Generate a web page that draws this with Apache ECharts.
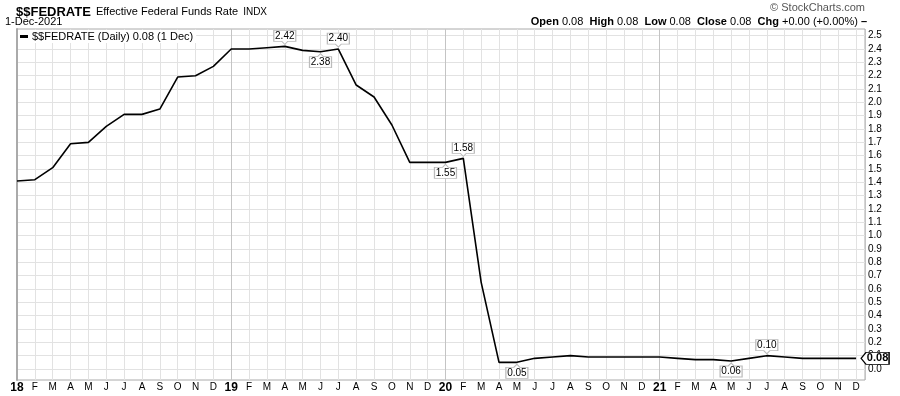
<!DOCTYPE html>
<html>
<head>
<meta charset="utf-8">
<script src="https://cdn.jsdelivr.net/npm/echarts@6/dist/echarts.min.js"></script>
<style>
html,body{margin:0;padding:0;background:#fff;}
#chart{width:900px;height:396px;}
</style>
</head>
<body>
<div id="chart"></div>
<script>
// Month tick labels (Jan 2018 .. Dec 2021)
const xTickLabels = [
  '18','F','M','A','M','J','J','A','S','O','N','D',
  '19','F','M','A','M','J','J','A','S','O','N','D',
  '20','F','M','A','M','J','J','A','S','O','N','D',
  '21','F','M','A','M','J','J','A','S','O','N','D'
];
const yearLabels = ['18','19','20','21'];

// Effective Federal Funds Rate, monthly points
const rateValues = [
  1.41, 1.42, 1.51, 1.69, 1.70, 1.82, 1.91, 1.91, 1.95, 2.19, 2.20, 2.27,
  2.40, 2.40, 2.41, 2.42, 2.39, 2.38, 2.40, 2.13, 2.04, 1.83, 1.55, 1.55,
  1.55, 1.58, 0.65, 0.05, 0.05, 0.08, 0.09, 0.10, 0.09, 0.09, 0.09, 0.09,
  0.09, 0.08, 0.07, 0.07, 0.06, 0.08, 0.10, 0.09, 0.08, 0.08, 0.08, 0.08
];

// Indices of annotated points
const annotAbove = [15, 18, 25, 42];
const annotBelow = [17, 24, 28, 40];

const seriesName = '$$FEDRATE (Daily) 0.08 (1 Dec)';
const FONT = 'Liberation Sans, Arial, sans-serif';

const lastIdx = rateValues.length - 1;

const markData = [];
annotAbove.forEach(i => {
  markData.push({
    coord: [i, rateValues[i]],
    value: rateValues[i].toFixed(2),
    symbol: 'path://M0,0H22V11H14L11,14L8,11H0Z',
    symbolSize: [22, 14],
    symbolOffset: [0, -9],
    label: { offset: [0, -1.5] }
  });
});
annotBelow.forEach(i => {
  markData.push({
    coord: [i, rateValues[i]],
    value: rateValues[i].toFixed(2),
    symbol: 'path://M0,3H8L11,0L14,3H22V14H0Z',
    symbolSize: [22, 14],
    symbolOffset: [0, 9],
    label: { offset: [0, 1.5] }
  });
});
markData.push({
  coord: [lastIdx, rateValues[lastIdx]],
  value: rateValues[lastIdx].toFixed(2),
  symbol: 'path://M0,6L5,0H28V12H5Z',
  symbolSize: [28, 12],
  symbolOffset: [19, 0],
  itemStyle: { color: '#fff', borderColor: '#000', borderWidth: 1 },
  label: { offset: [2.5, 0], fontWeight: 'bold', fontSize: 11 }
});

const splitColors = ['#c4c4c4'];
for (let k = 1; k < 12; k++) splitColors.push('#e2e2e2');

const chart = echarts.init(document.getElementById('chart'), null, { renderer: 'canvas' });
chart.setOption({
  animation: false,
  backgroundColor: '#fff',
  textStyle: { fontFamily: FONT },
  title: [
    {
      left: 16, top: 3, padding: 0,
      text: '{a|$$FEDRATE} {b|Effective Federal Funds Rate} {c|INDX}',
      textStyle: {
        fontWeight: 'normal',
        rich: {
          a: { fontFamily: FONT, fontSize: 13, fontWeight: 'bold', color: '#000' },
          b: { fontFamily: FONT, fontSize: 11, fontWeight: 'normal', color: '#000' },
          c: { fontFamily: FONT, fontSize: 10, fontWeight: 'normal', color: '#000' }
        }
      }
    },
    {
      left: 5, top: 16, padding: 0,
      text: '1-Dec-2021',
      textStyle: { fontFamily: FONT, fontSize: 11, fontWeight: 'normal', color: '#000' }
    },
    {
      right: 35, top: 2, padding: 0,
      text: '© StockCharts.com',
      textStyle: { fontFamily: FONT, fontSize: 11, fontWeight: 'normal', color: '#555' }
    },
    {
      right: 33, top: 16, padding: 0,
      text: '{k|Open} 0.08  {k|High} 0.08  {k|Low} 0.08  {k|Close} 0.08  {k|Chg} +0.00 (+0.00%) {k|–}',
      textStyle: {
        fontFamily: FONT, fontSize: 11, fontWeight: 'normal', color: '#000',
        rich: { k: { fontFamily: FONT, fontSize: 11, fontWeight: 'bold', color: '#000' } }
      }
    }
  ],
  legend: {
    left: 18, top: 30, padding: [1, 3, 1, 2],
    backgroundColor: '#fff',
    icon: 'rect', itemWidth: 8, itemHeight: 3, itemGap: 4,
    selectedMode: false,
    textStyle: { fontFamily: FONT, fontSize: 11, color: '#000', padding: [0, 0, 0, -1] },
    data: [seriesName]
  },
  grid: [
    { left: 17, right: 35, top: 29, bottom: 16, show: true, borderColor: '#aaa', borderWidth: 1 },
    { left: 17, right: 35, top: 35.7, bottom: 27 }
  ],
  xAxis: [
    {
      gridIndex: 0, type: 'value', min: 0, max: 47.5, interval: 1,
      axisLine: { show: false }, axisTick: { show: false },
      axisLabel: {
        margin: 2, fontSize: 10, color: '#000', fontFamily: FONT,
        showMinLabel: true, showMaxLabel: false,
        formatter: function (v) {
          if (!Number.isInteger(v) || v < 0 || v >= xTickLabels.length) return '';
          const t = xTickLabels[v];
          return yearLabels.indexOf(t) >= 0 ? '{y|' + t + '}' : t;
        },
        rich: { y: { fontFamily: FONT, fontSize: 12, fontWeight: 'bold', color: '#000' } }
      },
      splitLine: { show: true, lineStyle: { color: splitColors, width: 1 } }
    },
    { gridIndex: 1, type: 'value', min: 0, max: 47.5, interval: 1, show: false }
  ],
  yAxis: [
    {
      gridIndex: 0, type: 'value', min: 0, max: 1,
      axisLine: { show: true, lineStyle: { color: '#aaa', width: 2 } },
      axisLabel: { show: false }, axisTick: { show: false }, splitLine: { show: false }
    },
    {
      gridIndex: 1, type: 'value', position: 'right', min: 0, max: 2.5, interval: 0.1,
      axisLine: { show: false }, axisTick: { show: false },
      axisLabel: {
        margin: 3, fontSize: 10, color: '#000', fontFamily: FONT,
        formatter: v => v.toFixed(1)
      },
      splitLine: { show: true, lineStyle: { color: '#e2e2e2', width: 1 } }
    }
  ],
  series: [
    {
      name: seriesName,
      type: 'line',
      xAxisIndex: 1, yAxisIndex: 1,
      data: rateValues.map((v, i) => [i, v]),
      symbol: 'none',
      clip: false,
      lineStyle: { color: '#000', width: 1.6 },
      itemStyle: { color: '#000' },
      markPoint: {
        silent: true,
        itemStyle: { color: '#fff', borderColor: '#bbb', borderWidth: 1 },
        label: {
          show: true, position: 'inside', color: '#000',
          fontFamily: FONT, fontSize: 10,
          formatter: p => p.value
        },
        data: markData
      }
    }
  ]
});
</script>
</body>
</html>
